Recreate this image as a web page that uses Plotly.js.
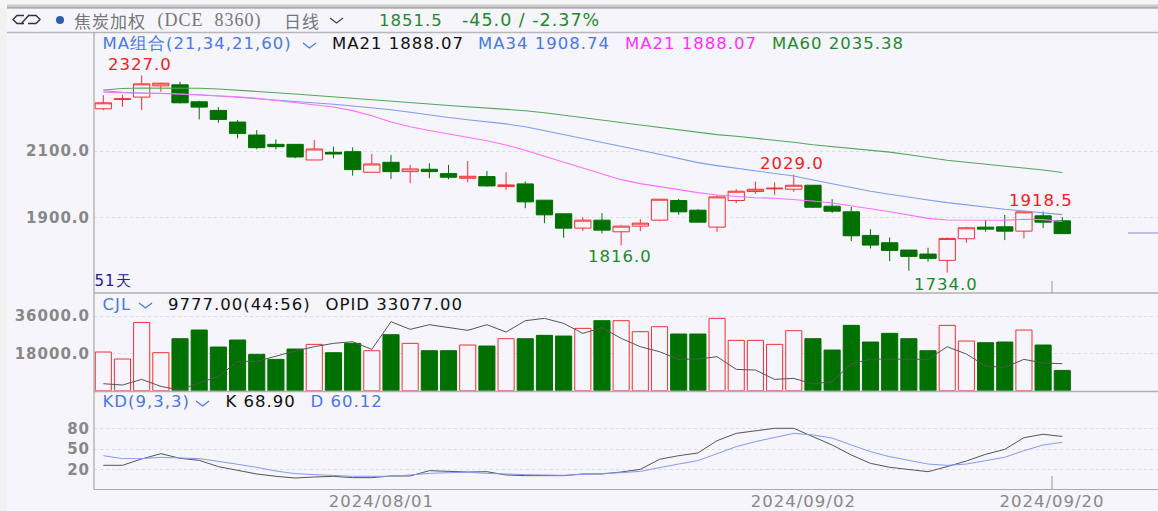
<!DOCTYPE html>
<html><head><meta charset="utf-8">
<script src="https://cdn.plot.ly/plotly-3.0.1.min.js"></script>
<style>html,body{margin:0;padding:0;background:#f5f5fb;overflow:hidden}
#c{width:1158px;height:511px}
#c svg text{letter-spacing:1px}</style></head><body><div id="c"></div>
<script>
// ---- data ----
const opens = [2227,2255,2262,2296,2299,2248,2222,2187,2148,2120,2120,2073,2096,2098,2036,2066,2038,2045,2032,2018,2023,1993,2001,1952,1911,1868,1892,1857,1874,1892,1951,1922,1871,1951,1978,1986,1985,1997,1934,1917,1846,1824,1802,1790,1771,1836,1871,1872,1859,1905,1890];
const closes = [2245,2257,2302,2304,2245,2232,2195,2153,2110,2113,2082,2106,2091,2044,2061,2038,2046,2038,2021,2024,1995,1998,1947,1908,1868,1892,1862,1874,1883,1955,1917,1886,1962,1979,1985,1988,1997,1931,1919,1845,1817,1801,1783,1777,1837,1869,1865,1859,1917,1886,1851.5];
const highs = [2268,2268,2327,2305,2308,2251,2232,2193,2163,2135,2121,2133,2113,2111,2091,2088,2058,2063,2058,2070,2040,2036,2008,1952,1911,1901,1913,1877,1895,1955,1956,1925,1968,1985,2008,2006,2029,1997,1955,1932,1865,1840,1802,1809,1840,1872,1892,1908,1918.5,1918,1901];
const lows = [2223,2233,2223,2278,2243,2195,2185,2138,2105,2105,2078,2073,2078,2026,2036,2016,2003,2018,2015,2006,1993,1983,1928,1883,1839,1860,1852,1816,1859,1889,1908,1886,1857,1943,1971,1968,1977,1929,1914,1829,1807,1769,1740,1767,1734,1824,1857,1832,1837,1868,1851];
const ma60 = [2283.5,2288,2289.5,2289.5,2289.5,2288.6,2286.5,2283.5,2279,2275.4,2271.4,2267.4,2263.4,2259.4,2255,2250.6,2245.9,2241.4,2237,2233.2,2230.2,2226.2,2221.2,2215.2,2208.3,2201.4,2193.8,2185.5,2178,2171,2163.2,2155.5,2149.3,2144.2,2139,2133.1,2126.5,2119,2113.4,2109,2104.1,2096.5,2088.5,2080,2072,2066,2060.4,2054.9,2049,2042.9,2035.38];
const ma34 = [2281.4,2276.5,2274.4,2273.5,2271.4,2269.3,2266.3,2261.5,2257.3,2253.4,2248.3,2244.4,2240.4,2235.3,2230.2,2224.2,2216.5,2208,2200.6,2194.1,2188.1,2181.5,2173,2161.5,2149,2137,2125,2114,2102,2090,2077,2065,2056,2048.5,2041.7,2033.5,2024.7,2012.8,2000.8,1989,1978.8,1969.8,1960.6,1952.6,1944.6,1937.5,1930.7,1924.7,1919.6,1914.6,1908.74];
const ma21 = [2276.5,2274.4,2273.5,2273.5,2271.4,2268.4,2266.3,2263.3,2258.5,2252.4,2245.5,2239.2,2232.3,2221.4,2206.2,2187.3,2173.1,2161.7,2152.2,2142.1,2131,2118,2102.5,2083.9,2065.8,2049.8,2031.9,2013.8,2001.8,1992.6,1983.8,1974.8,1967.7,1962.6,1959.6,1957.7,1954.6,1949.6,1943.5,1935.6,1926.5,1917.4,1906.6,1897.4,1892.5,1892.5,1891.6,1891.6,1894.6,1893.6,1888.07];
const volume = [18640,15270,32900,18320,25070,29250,21050,24430,17520,15100,20090,22340,18320,22820,19280,27000,22820,19280,19280,22020,21530,25070,25070,26680,26350,30050,33750,33750,28440,30850,27320,27320,34870,24270,24270,22340,28930,25070,19600,31500,23460,27640,25070,19280,31500,23940,23140,23460,29250,22020,9777];
const opidOnVolScale = [3370,2730,5460,2090,320,3860,6750,14140,14140,16710,19120,21210,22820,23620,19930,33260,29570,31820,30530,29090,31820,28280,33750,34870,32460,27640,30370,25230,21210,18800,15110,15270,16390,10280,9960,5460,5950,3210,4500,12860,15270,15270,15110,15110,21210,17680,11890,11250,15110,13340,13020];
const kLine = [26,26,35.4,43.3,36.4,33.4,24,19,13.1,9.6,7.1,8.6,9.6,7.6,7.6,10.1,10.1,18,16.5,16,16.5,11.6,10.6,10.6,10.6,13.1,13.1,16,20,34.9,40.3,44.3,62.6,73.5,77.5,81,81,68.6,56.2,41.3,28.9,23,20,16.5,24,32.4,42.3,49.7,67.1,72.1,68.9];
const dLine = [40.3,35.9,35.9,37.8,36.9,35.9,31.9,27.9,23,17.5,13.6,12.1,10.6,9.6,9.6,9.6,11.6,14,15,15.5,14,12.6,12.1,11.6,11.1,12.6,13.6,15,17,23,27.9,32.9,43.8,53.7,61.2,67.6,73.5,71.1,66.6,56.2,46.3,38.8,32.9,27.9,25.9,27.9,32.9,37.9,47.8,56.2,60.12];
const priceTicks = [2100,1900];
const volTicks = [36000,18000];
const kdTicks = [80,50,20];
const dateTickPos = [14.5,36.5,49.46];
const dateLabels = ['2024/08/01','2024/09/02','2024/09/20'];

// ---- styling ----
const W=1158,H=511,BG='#f5f5fb',RED='#f53030',GRN='#007000';
const FONT='"DejaVu Sans",Verdana,sans-serif';
const idx = closes.map((_,i)=>i);
const fx=x=>x/W, fy=y=>1-y/H;
const txt=(t,x,y,color,size,o)=>{
  const o2=o||{};
  const left=!o2.xanchor;
  const n=t.replace(/&nbsp;/g,' ').length;
  return Object.assign({text:t,xref:'paper',yref:'paper',x:fx(x+(left?0.45*n:0)),y:fy(y),xanchor:'left',yanchor:'middle',showarrow:false,borderpad:0,font:{family:FONT,size:size||16.5,color}},o2);
};
const BLUE='#4a78e6',MAG='#ff30ff',DGRN='#1f8a2c';
const cen={xanchor:'center'};
const annotations=[
 txt('焦炭加权',73,20,'#777',17,{font:{family:'"Noto Sans CJK SC"',size:17,color:'#777'}}),
 txt('(DCE&nbsp;&nbsp;8360)',157,20,'#777',18,{font:{family:'"Liberation Serif"',size:18,color:'#777'}}),
 txt('日线',283,20,'#777',17,{font:{family:'"Noto Sans CJK SC"',size:17,color:'#777'}}),
 txt('1851.5',378,20,DGRN,16.5),
 txt('-45.0 / -2.37%',462,20,DGRN,17.5),
 txt('MA组合(21,34,21,60)',102,43,BLUE,16.5),
 txt('MA21 1888.07',332,43,'#111',16.5),
 txt('MA34 1908.74',478,43,BLUE,16.5),
 txt('MA21 1888.07',625,43,MAG,16.5),
 txt('MA60 2035.38',772,43,DGRN,16.5),
 txt('2327.0',140,64,'#f02020',16.5,cen),
 txt('1816.0',620,256,DGRN,16.5,cen),
 txt('2029.0',792,163,'#f02020',16.5,cen),
 txt('1918.5',1041,200,'#f02020',16.5,cen),
 txt('1734.0',946,284,DGRN,16.5,cen),
 txt('51天',94,281,'#20209a',15),
 txt('CJL',102,304,BLUE,16.5),
 txt('9777.00(44:56)',168,304,'#111',16.5),
 txt('OPID 33077.00',325,304,'#111',16.5),
 txt('KD(9,3,3)',102,401,BLUE,16.5),
 txt('K 68.90',225,401,'#111',16.5),
 txt('D 60.12',310,401,BLUE,16.5)
];
const pathPx=(pts)=>'M'+pts.map(p=>fx(p[0])+' '+fy(p[1])).join(' L');
const chev=(x,y,c)=>({type:'path',xref:'paper',yref:'paper',path:pathPx([[x,y],[x+6.5,y+5],[x+13,y]]),line:{color:c,width:1.3}});
const hline=(y,x0,x1,c,w)=>({type:'line',xref:'paper',yref:'paper',x0:fx(x0),x1:fx(x1),y0:fy(y),y1:fy(y),line:{color:c,width:w||1}});
const vline=(x,y0,y1,c)=>({type:'line',xref:'paper',yref:'paper',x0:fx(x),x1:fx(x),y0:fy(y0),y1:fy(y1),line:{color:c,width:1}});
const shapes=[
 {type:'rect',xref:'paper',yref:'paper',x0:0,x1:fx(7),y0:0,y1:1,fillcolor:'#f1f1f1',line:{width:0},layer:'below'},
 {type:'rect',xref:'paper',yref:'paper',x0:0,x1:1,y0:fy(8),y1:1,fillcolor:'#f6f6f6',line:{width:0},layer:'below'},
 {type:'rect',xref:'paper',yref:'paper',x0:fx(7),x1:1,y0:fy(8),y1:fy(4.5),fillcolor:'#c9c9cc',line:{width:0},layer:'below'},
 hline(8,7,W,'#8d8d8d',1), hline(32.5,7,W,'#b8b8bc',1.5),
 hline(293,94,W,'#b0b0b0',1.5), hline(391.5,94,W,'#b0b0b0',1.5), hline(489.5,94,W,'#aaaaaa',1.2),
 vline(94,32,489.5,'#999'),
 vline(1052,281,293,'#999'), vline(1052,476,489,'#999'),
 hline(233,1128,W,'#8a8ad0',1),
 {type:'circle',xref:'paper',yref:'paper',x0:fx(56),x1:fx(64),y0:fy(24),y1:fy(16),fillcolor:'#2f5fa8',line:{width:0}},
 {type:'path',xref:'paper',yref:'paper',path:pathPx([[24,15.5],[17,15.5],[13,19.5],[17,23.5],[24,23.5]]),line:{color:'#333',width:1.4}},
 {type:'path',xref:'paper',yref:'paper',path:pathPx([[28,15.5],[36,15.5],[40,19.5],[36,23.5],[28,23.5]]),line:{color:'#333',width:1.4}},
 {type:'path',xref:'paper',yref:'paper',path:pathPx([[21,24],[29,15]]),line:{color:'#333',width:1.4}},
 chev(330,18,'#444'), chev(303,43,BLUE), chev(139,303,BLUE), chev(196,401,BLUE)
];
const lineTrace=(y,color,ya,w)=>({type:'scatter',mode:'lines',x:idx,y,yaxis:ya,line:{color,width:w||1.1},hoverinfo:'skip'});
const isUp=closes.map((c,i)=>c>=opens[i]);
const data=[
 {type:'bar',x:idx,y:volume,yaxis:'y2',width:0.84,
  marker:{color:isUp.map(u=>u?BG:GRN),line:{color:isUp.map(u=>u?RED:GRN),width:1}},hoverinfo:'skip'},
 {type:'candlestick',x:idx,open:opens,high:highs,low:lows,close:closes,yaxis:'y',whiskerwidth:0,
  increasing:{line:{color:RED,width:1},fillcolor:BG},
  decreasing:{line:{color:GRN,width:1},fillcolor:GRN},hoverinfo:'skip'},
 lineTrace(ma60,'#55a65a','y'),
 lineTrace(ma34,'#7f9cf0','y'),
 lineTrace(ma21,'#ff70ff','y'),
 lineTrace(opidOnVolScale,'#555','y2',1),
 lineTrace(kLine,'#555','y3',1),
 lineTrace(dLine,'#7f9cf0','y3',1)
];
const yBase={showline:false,zeroline:false,showgrid:true,griddash:'dot',gridcolor:'#dcdce2',gridwidth:1,ticklen:0,ticks:'',
  tickmode:'array',fixedrange:true,anchor:'x',ticklabelstandoff:3};
const tickFont={family:FONT,size:15,color:'#888'};
const lab=(v,d)=>'<b>'+v.toFixed(d)+'</b>';
const layout={width:W,height:H,margin:{l:0,r:0,t:0,b:0,pad:0},paper_bgcolor:BG,plot_bgcolor:BG,showlegend:false,
 boxgap:0.15,boxgroupgap:0,barmode:'overlay',annotations,shapes,
 xaxis:{domain:[fx(94),1],range:[-0.485,54.99],anchor:'y3',showgrid:false,zeroline:false,showline:false,ticks:'',
   tickmode:'array',tickvals:dateTickPos,ticktext:dateLabels,tickfont:{family:FONT,size:16.5,color:'#888'},rangeslider:{visible:false},fixedrange:true},
 yaxis:Object.assign({},yBase,{domain:[fy(293),fy(33)],range:[1672.9,2454.9],tickvals:priceTicks,ticktext:priceTicks.map(v=>lab(v,1)),tickfont:tickFont}),
 yaxis2:Object.assign({},yBase,{domain:[fy(390.7),fy(293)],range:[0,47100],tickvals:volTicks,ticktext:volTicks.map(v=>lab(v,1)),tickfont:tickFont}),
 yaxis3:Object.assign({},yBase,{domain:[fy(489.5),fy(392)],range:[-10,135],tickvals:kdTicks,ticktext:kdTicks.map(v=>lab(v,0)),tickfont:tickFont})
};
Plotly.newPlot('c',data,layout,{displayModeBar:false,staticPlot:true});
</script></body></html>
